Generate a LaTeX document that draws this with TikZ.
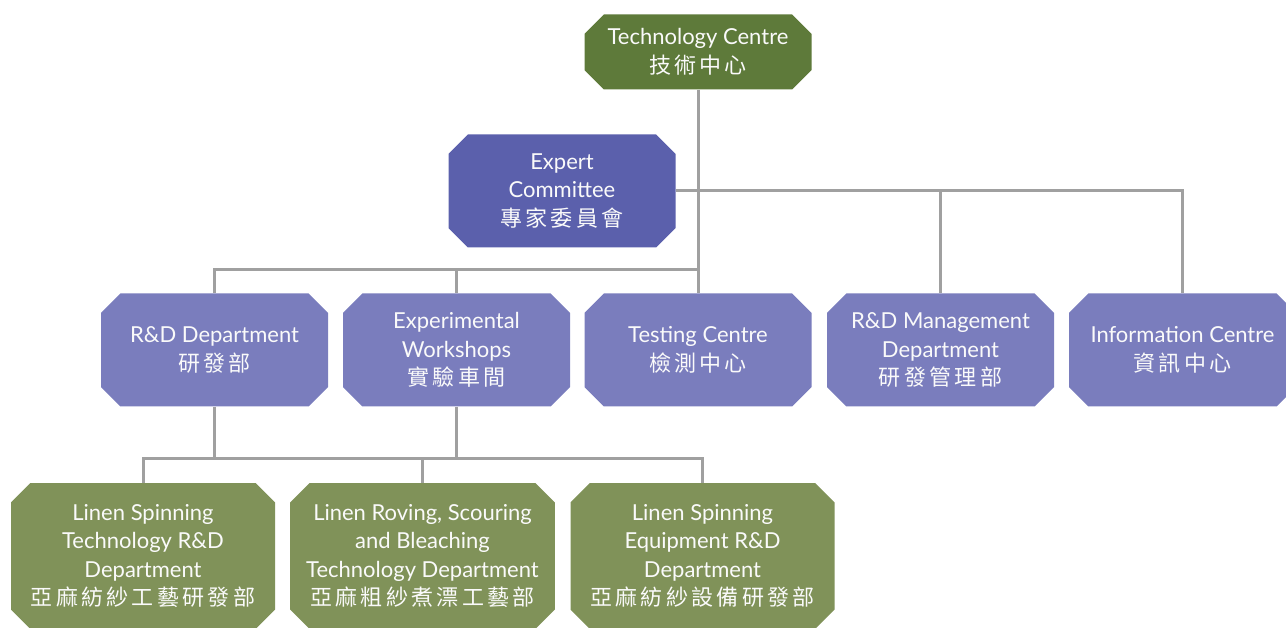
\documentclass[tikz,border=0pt]{standalone}
\usepackage{fontspec}
\setmainfont{Lato}
\newfontfamily\cjk[LetterSpace=15]{Noto Sans CJK TC}
\usetikzlibrary{shapes.misc}

\definecolor{topgreen}{HTML}{5E7A3A}
\definecolor{expblue}{HTML}{5B60AC}
\definecolor{deptblue}{HTML}{7A7DBD}
\definecolor{subgreen}{HTML}{809259}
\definecolor{linkgray}{HTML}{A0A0A0}

\tikzset{
  unit/.style={chamfered rectangle, chamfered rectangle xsep=16pt,
    minimum width=227pt, minimum height=113pt, inner sep=0pt,
    text=white!96!gray, align=center, font=\fontsize{22}{28.5}\selectfont},
  link/.style={draw=linkgray, line width=3pt},
}

\begin{document}
\begin{tikzpicture}[x=1pt, y=-1pt]
\useasboundingbox (0,0) rectangle (1286,628);
% top level
\node[unit, fill=topgreen, minimum height=75pt] (tech) at (698,52) {Technology Centre\\{\cjk 技術中心}};
\node[unit, fill=expblue] (expert) at (562,191) {Expert\\Committee\\{\cjk 專家委員會}};
% departments
\node[unit, fill=deptblue] (rd) at (214.5,350) {R\&D Department\\{\cjk 研發部}};
\node[unit, fill=deptblue] (exp) at (456.5,350) {Experimental\\Workshops\\{\cjk 實驗車間}};
\node[unit, fill=deptblue] (test) at (698,350) {Testing Centre\\{\cjk 檢測中心}};
\node[unit, fill=deptblue] (mgmt) at (940.5,350) {R\&D Management\\Department\\{\cjk 研發管理部}};
\node[unit, fill=deptblue] (info) at (1182.5,350) {Information Centre\\{\cjk 資訊中心}};
% sub departments
\node[unit, fill=subgreen, minimum width=264pt, minimum height=146pt] (spin) at (143,556) {Linen Spinning\\Technology R\&D\\Department\\{\cjk 亞麻紡紗工藝研發部}};
\node[unit, fill=subgreen, minimum width=264pt, minimum height=146pt] (rov) at (422.5,556) {Linen Roving, Scouring\\and Bleaching\\Technology Department\\{\cjk 亞麻粗紗煮漂工藝部}};
\node[unit, fill=subgreen, minimum width=264pt, minimum height=146pt] (equip) at (702.5,556) {Linen Spinning\\Equipment R\&D\\Department\\{\cjk 亞麻紡紗設備研發部}};
% bus lines
\coordinate (midbus) at (698,270);
\coordinate (lowbus) at (214.5,458);
\draw[link] (tech.south) -- (test.north);
\draw[link] (expert.east) -| (info.north);
\draw[link] (mgmt.north) -- (mgmt.north |- expert.east);
\draw[link] (rd.north) |- (midbus);
\draw[link] (exp.north) -- (exp.north |- midbus);
\draw[link] (rd.south) -- (lowbus);
\draw[link] (spin.north) |- (lowbus) -| (equip.north);
\draw[link] (exp.south) -- (exp.south |- lowbus);
\draw[link] (rov.north) -- (rov.north |- lowbus);
\end{tikzpicture}
\end{document}
